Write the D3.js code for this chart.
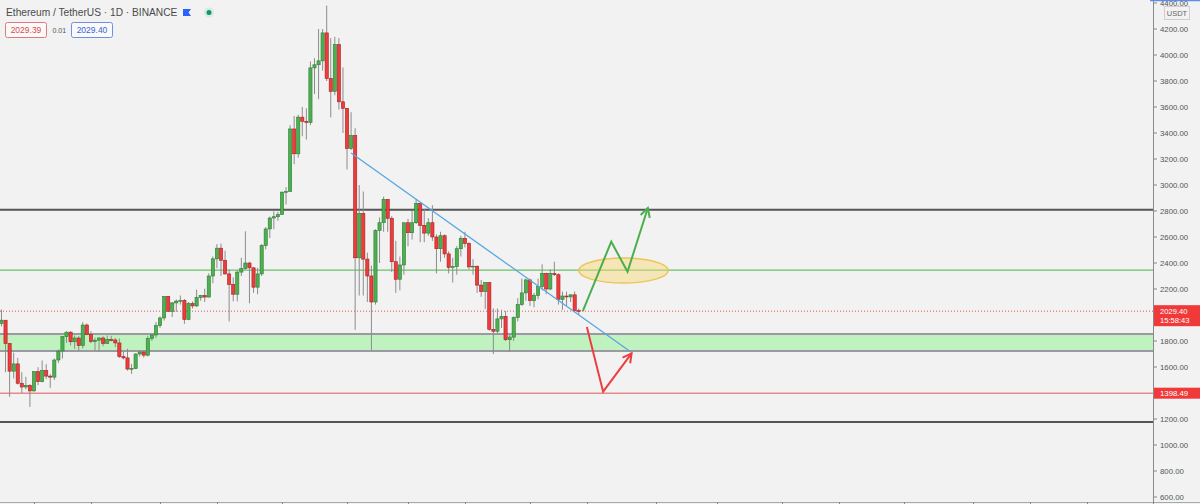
<!DOCTYPE html>
<html><head><meta charset="utf-8">
<script src="https://cdn.jsdelivr.net/npm/d3@7"></script>
<style>
html,body{margin:0;padding:0;background:#f2f2f2;overflow:hidden;}
svg{display:block;font-family:"Liberation Sans",Arial,sans-serif;}
</style></head><body>
<svg id="chart" width="1200" height="504"></svg>
<script>
// ---- categories (daily candles, Binance ETH/USDT) ----
const dates = [
"2021-02-21","2021-02-22","2021-02-23","2021-02-24","2021-02-25","2021-02-26","2021-02-27","2021-02-28",
"2021-03-01","2021-03-02","2021-03-03","2021-03-04","2021-03-05","2021-03-06","2021-03-07","2021-03-08","2021-03-09","2021-03-10",
"2021-03-11","2021-03-12","2021-03-13","2021-03-14","2021-03-15","2021-03-16","2021-03-17","2021-03-18","2021-03-19","2021-03-20",
"2021-03-21","2021-03-22","2021-03-23","2021-03-24","2021-03-25","2021-03-26","2021-03-27","2021-03-28","2021-03-29","2021-03-30","2021-03-31",
"2021-04-01","2021-04-02","2021-04-03","2021-04-04","2021-04-05","2021-04-06","2021-04-07","2021-04-08","2021-04-09","2021-04-10",
"2021-04-11","2021-04-12","2021-04-13","2021-04-14","2021-04-15","2021-04-16","2021-04-17","2021-04-18","2021-04-19","2021-04-20",
"2021-04-21","2021-04-22","2021-04-23","2021-04-24","2021-04-25","2021-04-26","2021-04-27","2021-04-28","2021-04-29","2021-04-30",
"2021-05-01","2021-05-02","2021-05-03","2021-05-04","2021-05-05","2021-05-06","2021-05-07","2021-05-08","2021-05-09","2021-05-10",
"2021-05-11","2021-05-12","2021-05-13","2021-05-14","2021-05-15","2021-05-16","2021-05-17","2021-05-18","2021-05-19","2021-05-20",
"2021-05-21","2021-05-22","2021-05-23","2021-05-24","2021-05-25","2021-05-26","2021-05-27","2021-05-28","2021-05-29","2021-05-30","2021-05-31",
"2021-06-01","2021-06-02","2021-06-03","2021-06-04","2021-06-05","2021-06-06","2021-06-07","2021-06-08","2021-06-09","2021-06-10",
"2021-06-11","2021-06-12","2021-06-13","2021-06-14","2021-06-15","2021-06-16","2021-06-17","2021-06-18","2021-06-19","2021-06-20",
"2021-06-21","2021-06-22","2021-06-23","2021-06-24","2021-06-25","2021-06-26","2021-06-27","2021-06-28","2021-06-29","2021-06-30",
"2021-07-01","2021-07-02","2021-07-03","2021-07-04","2021-07-05","2021-07-06","2021-07-07","2021-07-08","2021-07-09","2021-07-10",
"2021-07-11","2021-07-12","2021-07-13"];

// ---- series values ----
const open = [
1935,1960,1781,1568,1624,1475,1446,1459,
1416,1564,1487,1573,1530,1522,1654,1723,1834,1868,1794,1823,1765,1923,1851,1795,1806,1823,1781,1811,1808,1785,1680,1670,1584,1589,1700,1715,1691,1819,1846,
1918,1977,2143,2028,2093,2107,2112,1965,2088,2070,2135,2150,2138,2300,2432,2514,2421,2316,2235,2160,2330,2357,2400,2363,2214,2316,2534,2662,2746,2756,
2773,2945,2950,3431,3240,3522,3490,3481,3901,3925,3955,4170,3820,3720,4080,3640,3590,3280,3380,2440,2780,2430,2300,2100,2650,2710,2890,2744,2410,2275,2385,
2710,2633,2710,2859,2690,2630,2710,2600,2510,2610,2470,2365,2372,2510,2590,2550,2370,2375,2230,2180,2250,1890,1875,1970,1990,1810,1830,1980,2080,2170,
2270,2110,2150,2220,2320,2200,2320,2310,2120,2146,2139,2155,2034];
const high = [
2042,1960,1782,1710,1670,1560,1525,1468,
1567,1598,1650,1622,1545,1665,1735,1837,1875,1875,1842,1838,1945,1935,1875,1826,1830,1836,1843,1840,1824,1820,1722,1740,1624,1704,1728,1728,1840,1860,1945,
1990,2146,2145,2100,2120,2150,2123,2100,2104,2195,2155,2203,2320,2450,2545,2549,2495,2350,2290,2345,2440,2644,2410,2365,2363,2546,2676,2757,2798,2795,
2950,2984,3460,3530,3540,3600,3590,3950,3975,4200,4200,4380,4130,4140,4130,3905,3590,3560,3437,3000,2950,2480,2380,2660,2750,2910,2890,2760,2570,2450,2710,
2740,2800,2890,2860,2817,2745,2845,2620,2640,2620,2490,2440,2530,2610,2640,2560,2430,2380,2270,2250,2250,2050,2050,2040,2030,1850,1990,2130,2280,2280,
2280,2170,2280,2390,2325,2350,2410,2320,2180,2180,2160,2180,2050];
const low = [
1911,1560,1371,1511,1465,1400,1428,1293,
1411,1460,1482,1506,1440,1500,1630,1665,1785,1765,1740,1724,1742,1844,1782,1727,1716,1760,1778,1797,1753,1670,1658,1573,1547,1584,1680,1672,1681,1800,1825,
1901,1957,2028,1985,2024,2080,1932,1960,2050,2060,2110,2100,2135,2245,2360,2300,2310,1950,2105,2105,2300,2350,2090,2170,2160,2300,2505,2592,2660,2725,
2772,2850,2950,3160,3210,3375,3350,3460,3700,3660,3880,3800,3520,3690,3580,3400,3120,3270,1885,2150,2150,2100,1730,2080,2400,2640,2640,2330,2170,2190,2310,
2530,2580,2700,2560,2560,2610,2570,2320,2410,2440,2320,2250,2310,2450,2520,2350,2310,2170,2140,2045,1880,1700,1860,1900,1800,1715,1800,1950,2070,2110,
2070,2060,2120,2190,2160,2190,2300,2080,2040,2070,2100,2020,2000];
const close = [
1960,1781,1568,1624,1475,1446,1459,1416,
1564,1487,1573,1530,1522,1654,1723,1834,1868,1794,1823,1765,1923,1851,1795,1806,1823,1781,1811,1808,1785,1680,1670,1584,1589,1700,1715,1691,1819,1846,1918,
1977,2143,2028,2093,2107,2112,1965,2088,2070,2135,2150,2138,2300,2432,2514,2421,2316,2235,2160,2330,2357,2400,2363,2214,2316,2534,2662,2746,2756,2773,
2945,2950,3431,3240,3522,3490,3481,3901,3925,3955,4170,3820,3720,4080,3640,3590,3280,3380,2440,2780,2430,2300,2100,2650,2710,2890,2744,2410,2275,2385,2710,
2633,2710,2859,2690,2630,2710,2600,2510,2610,2470,2365,2372,2510,2590,2550,2370,2375,2230,2180,2250,1890,1875,1970,1990,1810,1830,1980,2080,2170,2270,
2110,2150,2220,2320,2200,2320,2310,2120,2146,2139,2155,2034,2029.4];

// ---- tick labels ----
const priceTicks = [600,800,1000,1200,1400,1600,1800,2000,2200,2400,2600,2800,3000,3200,3400,3600,3800,4000,4200,4400];
const timeTicks = ["2021-03-01","2021-03-15","2021-04-01","2021-04-15","2021-05-01","2021-05-17","2021-06-01","2021-06-15",
  "2021-07-01","2021-07-15","2021-08-01","2021-08-16","2021-09-01","2021-09-15","2021-10-01","2021-10-18","2021-11-01","2021-11-15"];

// ---- drawn levels / annotations (price & date terms) ----
const resistanceLine = 2810;
const supportLine = 1177;
const greenLevel = 2345;
const zone = [1723, 1854];
const redLevel = 1398.49;
const lastPrice = 2029.40;
const trendLine = [["2021-05-18", 3246], ["2021-07-26", 1712]];
const bullPath = [["2021-07-14", 2030], ["2021-07-21", 2564], ["2021-07-25", 2333], ["2021-07-30", 2823]];
const bearPath = [["2021-07-15", 1908], ["2021-07-19", 1410], ["2021-07-26", 1705]];
const ellipse = {date: "2021-07-24", price: 2342, halfDays: 11, halfPrice: 96};

const W = 1200, H = 504, plotR = 1153, plotB = 502;
const svg = d3.select("#chart");
const pd = s => new Date(s + "T00:00:00Z");

const x = d3.scaleUtc().domain([pd("2021-03-01"), pd("2021-09-01")]).range([34, 782]);
const y = d3.scaleLinear().domain([600, 4400]).range([497, 3]);

svg.append("rect").attr("width", W).attr("height", H).attr("fill", "#f2f2f2");

svg.append("defs").append("clipPath").attr("id", "plot")
  .append("rect").attr("x", 0).attr("y", 0).attr("width", plotR).attr("height", plotB);

const g = svg.append("g").attr("clip-path", "url(#plot)");

// horizontal levels
g.append("rect").attr("x", 0).attr("width", plotR)
  .attr("y", y(zone[1])).attr("height", y(zone[0]) - y(zone[1])).attr("fill", "#bff2bf");
const hline = (p, color, w, dash) => g.append("line").attr("x1", 0).attr("x2", plotR)
  .attr("y1", y(p)).attr("y2", y(p)).attr("stroke", color).attr("stroke-width", w)
  .attr("stroke-dasharray", dash || null);
hline(zone[1], "#9c98a4", 2);
hline(zone[0], "#9c98a4", 2);
hline(resistanceLine, "#555555", 2);
hline(supportLine, "#555555", 2);
hline(greenLevel, "#6cbf6c", 1.2);
hline(redLevel, "#e88a8a", 1.5);
hline(lastPrice, "#e65050", 1, "1,2");

// candles
const data = dates.map((d, i) => ({date: pd(d), o: open[i], h: high[i], l: low[i], c: close[i]}));
const cg = g.append("g");
cg.selectAll("line.wick").data(data).join("line").attr("class", "wick")
  .attr("x1", d => x(d.date)).attr("x2", d => x(d.date))
  .attr("y1", d => y(d.h)).attr("y2", d => y(d.l))
  .attr("stroke", "#8c8c8c").attr("stroke-width", 1);
cg.selectAll("rect.body").data(data).join("rect").attr("class", "body")
  .attr("x", d => x(d.date) - 1.6).attr("width", 3.2)
  .attr("y", d => y(Math.max(d.o, d.c)))
  .attr("height", d => Math.max(0.8, Math.abs(y(d.o) - y(d.c))))
  .attr("fill", d => d.c >= d.o ? "#4caf50" : "#ee3b3b")
  .attr("stroke", d => d.c >= d.o ? "#2e7d32" : "#a82020").attr("stroke-width", 0.6);

// trend line
g.append("line")
  .attr("x1", x(pd(trendLine[0][0]))).attr("y1", y(trendLine[0][1]))
  .attr("x2", x(pd(trendLine[1][0]))).attr("y2", y(trendLine[1][1]))
  .attr("stroke", "#58a6e0").attr("stroke-width", 1.3);

// ellipse
g.append("ellipse")
  .attr("cx", x(pd(ellipse.date))).attr("cy", y(ellipse.price))
  .attr("rx", x(d3.utcDay.offset(pd(ellipse.date), ellipse.halfDays)) - x(pd(ellipse.date)))
  .attr("ry", y(ellipse.price - ellipse.halfPrice) - y(ellipse.price))
  .attr("fill", "rgba(247,214,110,0.45)").attr("stroke", "#efc458").attr("stroke-width", 1.5);

// arrow paths
const line = d3.line().x(d => x(pd(d[0]))).y(d => y(d[1]));
function arrow(pts, color) {
  g.append("path").attr("d", line(pts)).attr("fill", "none").attr("stroke", color)
    .attr("stroke-width", 2).attr("stroke-linejoin", "miter");
  const a = pts[pts.length - 2], b = pts[pts.length - 1];
  const bx = x(pd(b[0])), by = y(b[1]), ax = x(pd(a[0])), ay = y(a[1]);
  const ang = Math.atan2(by - ay, bx - ax), len = 10, spread = 0.5;
  const p1 = [bx - len * Math.cos(ang - spread), by - len * Math.sin(ang - spread)];
  const p2 = [bx - len * Math.cos(ang + spread), by - len * Math.sin(ang + spread)];
  g.append("path").attr("d", `M${p1}L${bx},${by}L${p2}`).attr("fill", "none")
    .attr("stroke", color).attr("stroke-width", 2);
}
arrow(bullPath, "#4cae4c");
arrow(bearPath, "#ec4040");

// time axis
svg.append("line").attr("x1", 0).attr("x2", W).attr("y1", plotB + 0.5).attr("y2", plotB + 0.5)
  .attr("stroke", "#a8a8a8");
svg.selectAll("line.tt").data(timeTicks).join("line").attr("class", "tt")
  .attr("x1", d => Math.round(x(pd(d))) + 0.5).attr("x2", d => Math.round(x(pd(d))) + 0.5)
  .attr("y1", plotB).attr("y2", H).attr("stroke", "#888");

// price axis
const ly = y(lastPrice), ry = y(redLevel);
// labels hidden behind the coloured price boxes are not drawn (as in the reference)
const shownTicks = priceTicks.filter(t => {
  const ty = y(t);
  return !(ty > ly - 12 && ty < ly + 22) && !(ty > ry - 10 && ty < ry + 10);
});
svg.append("line").attr("x1", plotR + 0.5).attr("x2", plotR + 0.5).attr("y1", 0).attr("y2", H)
  .attr("stroke", "#8a8a8a");
const pa = svg.append("g");
pa.selectAll("line").data(shownTicks).join("line")
  .attr("x1", plotR).attr("x2", plotR + 4).attr("y1", d => y(d)).attr("y2", d => y(d)).attr("stroke", "#888");
pa.selectAll("text").data(shownTicks).join("text")
  .attr("x", 1160).attr("y", d => y(d) + 2.8).attr("font-size", 7.8).attr("fill", "#555")
  .text(d => d3.format(".2f")(d));

// USDT label
svg.append("rect").attr("x", 1164.5).attr("y", 6.5).attr("width", 25).attr("height", 13)
  .attr("fill", "#f2f2f2").attr("stroke", "#cfcfcf");
svg.append("text").attr("x", 1177).attr("y", 15.8).attr("text-anchor", "middle")
  .attr("font-size", 7.5).attr("fill", "#666").text("USDT");
svg.append("line").attr("x1", 1150).attr("x2", W).attr("y1", 0.5).attr("y2", 0.5)
  .attr("stroke", "#5b8def").attr("stroke-width", 1.5);

// last price label
svg.append("rect").attr("x", plotR + 1).attr("y", ly - 6).attr("width", W - plotR - 1).attr("height", 21)
  .attr("fill", "#f03a3a");
svg.append("text").attr("x", 1160).attr("y", ly + 2.6).attr("font-size", 7.6).attr("fill", "#fff")
  .text(d3.format(".2f")(lastPrice));
svg.append("text").attr("x", 1160).attr("y", ly + 12).attr("font-size", 7.6).attr("fill", "#fff")
  .text("15:58:43");
// red level label
svg.append("rect").attr("x", plotR + 1).attr("y", ry - 5.5).attr("width", W - plotR - 1).attr("height", 11)
  .attr("fill", "#f03a3a");
svg.append("text").attr("x", 1160).attr("y", ry + 2.8).attr("font-size", 7.8).attr("fill", "#fff")
  .text(d3.format(".2f")(redLevel));

// header
svg.append("text").attr("x", 6).attr("y", 16).attr("font-size", 10.2).attr("fill", "#4a4a4a")
  .text("Ethereum / TetherUS · 1D · BINANCE");
svg.append("path").attr("d", "M183,9h8l-2.5,3.5l2.5,3.5h-8z").attr("fill", "#2962ff");
svg.append("circle").attr("cx", 209).attr("cy", 12.5).attr("r", 5).attr("fill", "#d5ede0");
svg.append("circle").attr("cx", 209).attr("cy", 12.5).attr("r", 2.5).attr("fill", "#17936a");
svg.append("rect").attr("x", 5.5).attr("y", 22.5).attr("width", 41).attr("height", 15).attr("rx", 2)
  .attr("fill", "#fafafa").attr("stroke", "#e07a7a");
svg.append("text").attr("x", 26).attr("y", 33).attr("text-anchor", "middle").attr("font-size", 8.5)
  .attr("fill", "#dc4b4b").text("2029.39");
svg.append("text").attr("x", 52.5).attr("y", 33).attr("font-size", 7).attr("fill", "#555").text("0.01");
svg.append("rect").attr("x", 71.5).attr("y", 22.5).attr("width", 41).attr("height", 15).attr("rx", 2)
  .attr("fill", "#fafafa").attr("stroke", "#6f8fe6");
svg.append("text").attr("x", 92).attr("y", 33).attr("text-anchor", "middle").attr("font-size", 8.5)
  .attr("fill", "#3b63d6").text("2029.40");
</script>
</body></html>
